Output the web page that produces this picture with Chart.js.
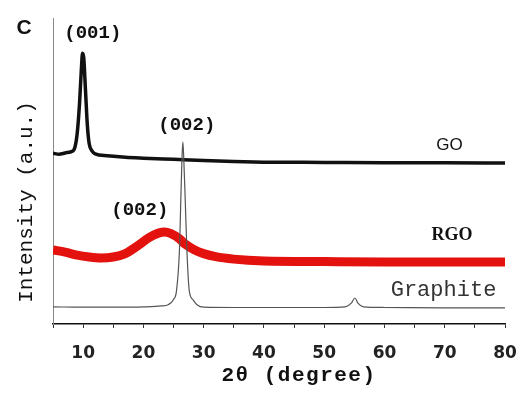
<!DOCTYPE html>
<html>
<head>
<meta charset="utf-8">
<script src="https://cdn.jsdelivr.net/npm/chart.js@4"></script>
<style>
  body { margin: 0; background: #fff; }
  canvas { display: block; }
</style>
</head>
<body>
<canvas id="xrd" width="520" height="403"></canvas>
<script>
// 2theta (degree) / intensity (a.u.)
const goX = [5, 6, 7, 8, 8.5, 9, 9.4, 9.7, 9.9, 10.1, 10.4, 10.7, 11, 11.5, 12, 14, 17, 20, 25, 30, 35, 40, 50, 60, 70, 80];
const goY = [55.8, 55.5, 55.9, 56.3, 57, 62, 72, 83, 88.5, 87, 76, 65, 59, 56.5, 55.6, 55, 54.5, 54.2, 53.8, 53.4, 53.1, 52.9, 52.8, 52.7, 52.7, 52.6];

const rgoX = [5, 7, 9, 11, 13, 15, 17, 19, 21, 22.5, 23.5, 24.5, 26, 27, 28.5, 30, 32, 35, 40, 50, 60, 70, 80];
const rgoY = [24.2, 23.5, 22.5, 21.9, 21.6, 21.9, 23, 25.5, 28.3, 29.7, 30.1, 29.6, 27.8, 26, 24.2, 23, 22, 21.2, 20.6, 20.4, 20.3, 20.3, 20.3];

const grX = [5, 10, 15, 20, 23, 24.1, 25, 25.5, 26, 26.2, 26.4, 26.55, 26.7, 26.95, 27.2, 27.6, 28.2, 28.9, 30, 35, 40, 50, 53.5, 54.5, 55.1, 55.6, 56.5, 60, 70, 80];
const grY = [5.6, 5.5, 5.5, 5.6, 5.9, 6.3, 8, 11, 25, 40, 54, 59.5, 54, 40, 25, 11, 8, 6.3, 5.5, 5.4, 5.4, 5.4, 5.6, 6.8, 8.5, 6.8, 5.6, 5.4, 5.3, 5.3];

// peak / curve labels in data coordinates
const labelText = ['(001)', '(002)', '(002)', 'GO', 'RGO', 'Graphite'];
const labelX = [11.6, 27.2, 19.4, 70.8, 71.2, 69.8];
const labelY = [95.1, 65, 37.3, 58.5, 29.1, 11.1];

const xTicks = [10, 20, 30, 40, 50, 60, 70, 80];

function pts(xs, ys) {
    return xs.map((x, i) => ({ x: x, y: ys[i] }));
}

const labelFonts = [
    'bold 19px "Liberation Mono"',
    'bold 19px "Liberation Mono"',
    'bold 19px "Liberation Mono"',
    '17px "Liberation Sans"',
    'bold 18px "Liberation Serif"',
    '22px "Liberation Mono"'
];

const textPlugin = {
    id: 'texts',
    afterDraw(chart) {
        const ctx = chart.ctx;
        const xs = chart.scales.x, ys = chart.scales.y;
        ctx.save();
        ctx.textAlign = 'center';
        ctx.textBaseline = 'middle';
        labelText.forEach((t, i) => {
            ctx.font = labelFonts[i];
            ctx.fillStyle = i === 5 ? '#333' : '#111';
            ctx.fillText(t, xs.getPixelForValue(labelX[i]), ys.getPixelForValue(labelY[i]));
        });
        // panel letter
        ctx.font = 'bold 21px "Liberation Sans"';
        ctx.fillStyle = '#111';
        ctx.fillText('C', 24, 28);
        // axis titles
        ctx.font = 'bold 21px "Liberation Mono"';
        ctx.letterSpacing = '1.5px';
        ctx.fillText('2θ (degree)', 299, 376);
        ctx.letterSpacing = '0px';
        ctx.translate(26, 202);
        ctx.rotate(-Math.PI / 2);
        ctx.font = '21px "Liberation Mono"';
        ctx.fillText('Intensity (a.u.)', 0, 0);
        ctx.restore();
    }
};

new Chart(document.getElementById('xrd'), {
    type: 'line',
    data: {
        datasets: [
            {
                label: 'Graphite',
                data: pts(grX, grY),
                borderColor: '#555',
                borderWidth: 1.2,
                order: 0
            },
            {
                label: 'GO',
                data: pts(goX, goY),
                borderColor: '#111',
                borderWidth: 3.5,
                order: 1
            },
            {
                label: 'RGO',
                data: pts(rgoX, rgoY),
                borderColor: '#e3120f',
                borderWidth: 9,
                order: 2
            }
        ]
    },
    options: {
        responsive: false,
        animation: false,
        layout: { padding: { top: 18, right: 15, left: 0, bottom: 0 } },
        elements: {
            point: { radius: 0 },
            line: { cubicInterpolationMode: 'monotone', fill: false }
        },
        plugins: {
            legend: { display: false },
            tooltip: { enabled: false }
        },
        scales: {
            x: {
                type: 'linear',
                min: 5,
                max: 80,
                afterFit(s) {
                    s.height = 79;
                    s.paddingLeft = 0;
                    s.paddingRight = 0;
                },
                border: { color: '#111', width: 1.5 },
                grid: { drawOnChartArea: false, tickLength: 4, color: '#333' },
                ticks: {
                    stepSize: 5,
                    autoSkip: false,
                    maxRotation: 0,
                    padding: 15,
                    color: '#222',
                    font: { family: 'DejaVu Sans', size: 17, weight: 'bold' },
                    callback: v => xTicks.includes(v) ? String(v) : ''
                }
            },
            y: {
                min: 0,
                max: 100,
                afterFit(s) { s.width = 53; },
                border: { color: '#888', width: 1 },
                grid: { display: false },
                ticks: { display: false }
            }
        }
    },
    plugins: [textPlugin]
});
</script>
</body>
</html>
